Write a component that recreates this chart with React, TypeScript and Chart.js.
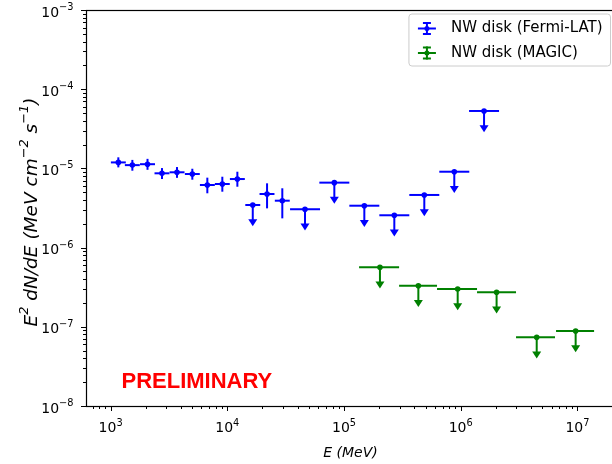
import React, { useEffect, useRef } from "react";
import { Chart, registerables } from "chart.js";

Chart.register(...registerables);

// ---- data (MeV, MeV cm^-2 s^-1) ----
const fermiLabel = "NW disk (Fermi-LAT)";
const fermiEnergy = [1164, 1535, 2070, 2754, 3704, 5012, 6739, 9060, 12190, 16520, 21900, 29590, 46300, 82600, 149300, 269800, 487500, 881000, 1585000];
const fermiELow = [1005, 1324, 1786, 2377, 3199, 4325, 5821, 7816, 10520, 14256, 18880, 25530, 34480, 61450, 111050, 200700, 362600, 655400, 1179000];
const fermiEHigh = [1349, 1778, 2399, 3192, 4295, 5808, 7816, 10495, 14125, 19143, 25350, 34280, 62300, 111050, 200700, 362600, 655400, 1184500, 2131000];
const fermiFlux = [1.19e-5, 1.10e-5, 1.13e-5, 8.67e-6, 8.93e-6, 8.49e-6, 6.17e-6, 6.35e-6, 7.34e-6, 3.45e-6, 4.75e-6, 3.91e-6, 3.05e-6, 6.61e-6, 3.38e-6, 2.56e-6, 4.62e-6, 9.08e-6, 5.31e-5];
const fermiFluxLow = [1.03e-5, 9.35e-6, 9.6e-6, 7.34e-6, 7.6e-6, 7.2e-6, 4.85e-6, 5.08e-6, 5.87e-6, null, 3.13e-6, 2.34e-6, null, null, null, null, null, null, null];
const fermiFluxHigh = [1.38e-5, 1.28e-5, 1.32e-5, 1.01e-5, 1.04e-5, 9.9e-6, 7.64e-6, 7.85e-6, 9.08e-6, null, 6.48e-6, 5.61e-6, null, null, null, null, null, null, null];
const fermiUpperLimit = [false, false, false, false, false, false, false, false, false, true, false, false, true, true, true, true, true, true, true];

const magicLabel = "NW disk (MAGIC)";
const magicEnergy = [203200, 433500, 942000, 2030000, 4480000, 9660000];
const magicELow = [134600, 296500, 626600, 1380000, 2979000, 6561000];
const magicEHigh = [296500, 626600, 1380000, 2979000, 6427000, 13900000];
const magicFlux = [5.64e-7, 3.30e-7, 3.0e-7, 2.73e-7, 7.36e-8, 8.85e-8];
const magicUpperLimit = [true, true, true, true, true, true];

const xTickValues = [1e3, 1e4, 1e5, 1e6, 1e7];
const xTickLabels = ["10^3", "10^4", "10^5", "10^6", "10^7"];
const yTickValues = [1e-8, 1e-7, 1e-6, 1e-5, 1e-4, 1e-3];
const yTickLabels = ["10^−8", "10^−7", "10^−6", "10^−5", "10^−4", "10^−3"];

const xTitle = "E (MeV)";
const yTitle = "E^2 dN/dE (MeV cm^−2 s^−1)";
const annotation = "PRELIMINARY";

const xMin = 615;
const xMax = 2.1e7;
const yMin = 1e-8;
const yMax = 1e-3;
const ulTipFactor = 0.54;

const BLUE = "#0000ff";
const GREEN = "#008000";
const FONT = "'DejaVu Sans', sans-serif";

const series = [
  { label: fermiLabel, color: BLUE, energy: fermiEnergy, eLow: fermiELow, eHigh: fermiEHigh, flux: fermiFlux, fLow: fermiFluxLow, fHigh: fermiFluxHigh, ul: fermiUpperLimit },
  { label: magicLabel, color: GREEN, energy: magicEnergy, eLow: magicELow, eHigh: magicEHigh, flux: magicFlux, fLow: magicFlux.map(() => null), fHigh: magicFlux.map(() => null), ul: magicUpperLimit },
];

function line(ctx: CanvasRenderingContext2D, x0: number, y0: number, x1: number, y1: number) {
  ctx.beginPath();
  ctx.moveTo(x0, y0);
  ctx.lineTo(x1, y1);
  ctx.stroke();
}

// parse "a^b c^d" style: caret applies to the following token (until space or ')')
function parseRich(s: string) {
  const segs: { t: string; sup: boolean }[] = [];
  let i = 0;
  let cur = "";
  while (i < s.length) {
    if (s[i] === "^") {
      if (cur) segs.push({ t: cur, sup: false });
      cur = "";
      i++;
      let sup = "";
      while (i < s.length && s[i] !== " " && s[i] !== ")") {
        sup += s[i];
        i++;
      }
      segs.push({ t: sup, sup: true });
    } else {
      cur += s[i];
      i++;
    }
  }
  if (cur) segs.push({ t: cur, sup: false });
  return segs;
}

function drawRich(
  ctx: CanvasRenderingContext2D,
  text: string,
  x: number,
  y: number,
  size: number,
  align: "left" | "center" | "right",
  style = ""
) {
  const segs = parseRich(text);
  const supSize = size * 0.7;
  const mainFont = `${style} ${size}px ${FONT}`;
  const supFont = `${style} ${supSize}px ${FONT}`;
  let total = 0;
  const widths = segs.map((sg) => {
    ctx.font = sg.sup ? supFont : mainFont;
    const w = ctx.measureText(sg.t).width;
    total += w;
    return w;
  });
  let cx = align === "left" ? x : align === "center" ? x - total / 2 : x - total;
  ctx.textAlign = "left";
  ctx.textBaseline = "alphabetic";
  segs.forEach((sg, i) => {
    ctx.font = sg.sup ? supFont : mainFont;
    ctx.fillText(sg.t, cx, sg.sup ? y - size * 0.46 : y);
    cx += widths[i];
  });
}

const errorBarPlugin = {
  id: "errorBars",
  beforeDatasetsDraw(chart: any) {
    const { ctx, scales } = chart;
    const xs = scales.x, ys = scales.y;
    ctx.save();
    ctx.lineWidth = 2;
    ctx.lineCap = "butt";
    for (const s of series) {
      ctx.strokeStyle = s.color;
      ctx.fillStyle = s.color;
      for (let i = 0; i < s.energy.length; i++) {
        const px = xs.getPixelForValue(s.energy[i]);
        const py = ys.getPixelForValue(s.flux[i]);
        line(ctx, xs.getPixelForValue(s.eLow[i]), py, xs.getPixelForValue(s.eHigh[i]), py);
        if (s.ul[i]) {
          const tip = ys.getPixelForValue(s.flux[i] * ulTipFactor);
          const head = 7, hw = 4.5;
          line(ctx, px, py, px, tip - head + 1);
          ctx.beginPath();
          ctx.moveTo(px - hw, tip - head);
          ctx.lineTo(px + hw, tip - head);
          ctx.lineTo(px, tip);
          ctx.closePath();
          ctx.fill();
        } else {
          line(ctx, px, ys.getPixelForValue(s.fHigh[i] as number), px, ys.getPixelForValue(s.fLow[i] as number));
        }
      }
    }
    ctx.restore();
  },
};

const framePlugin = {
  id: "frameTicks",
  afterDraw(chart: any) {
    const { ctx, chartArea: a, scales } = chart;
    const xs = scales.x, ys = scales.y;
    ctx.save();
    ctx.strokeStyle = "#000";
    ctx.fillStyle = "#000";
    ctx.lineWidth = 1;
    const drawX = (v: number, len: number) => {
      const p = Math.round(xs.getPixelForValue(v)) + 0.5;
      line(ctx, p, a.bottom, p, a.bottom + len);
    };
    const drawY = (v: number, len: number) => {
      const p = Math.round(ys.getPixelForValue(v)) + 0.5;
      line(ctx, a.left, p, a.left - len, p);
    };
    for (let e = 2; e <= 7; e++) {
      for (let k = 1; k <= 9; k++) {
        const v = k * Math.pow(10, e);
        if (v < xMin || v > xMax) continue;
        drawX(v, k === 1 ? 5 : 3);
      }
    }
    for (let e = -8; e <= -3; e++) {
      for (let k = 1; k <= 9; k++) {
        const v = k * Math.pow(10, e);
        if (v < yMin * 0.999 || v > yMax * 1.001) continue;
        drawY(v, k === 1 ? 5 : 3);
      }
    }
    ctx.lineWidth = 1.2;
    ctx.strokeRect(Math.round(a.left) + 0.5, Math.round(a.top) + 0.5, Math.round(a.right - a.left), Math.round(a.bottom - a.top));

    // tick labels
    xTickValues.forEach((v, i) => {
      drawRich(ctx, xTickLabels[i], xs.getPixelForValue(v), a.bottom + 26, 14, "center");
    });
    yTickValues.forEach((v, i) => {
      drawRich(ctx, yTickLabels[i], a.left - 12.5, ys.getPixelForValue(v) + 6.5, 14, "right");
    });

    // axis titles
    drawRich(ctx, xTitle, (a.left + a.right) / 2, a.bottom + 51, 14, "center", "italic");
    ctx.save();
    ctx.translate(a.left - 49, (a.top + a.bottom) / 2 + 4);
    ctx.rotate(-Math.PI / 2);
    drawRich(ctx, yTitle, 0, 0, 18.5, "center", "italic");
    ctx.restore();

    // legend
    ctx.font = `15px ${FONT}`;
    const tw = Math.max(...series.map((s) => ctx.measureText(s.label).width));
    const right = a.right - 4.5;
    const top = a.top + 4;
    const w = tw + 50;
    const left = right - w;
    const h = 52;
    ctx.beginPath();
    (ctx as any).roundRect(left, top, w, h, 3);
    ctx.fillStyle = "rgba(255,255,255,0.8)";
    ctx.fill();
    ctx.strokeStyle = "#cccccc";
    ctx.lineWidth = 1;
    ctx.stroke();
    series.forEach((s, i) => {
      const cy = top + 14.5 + i * 24.5;
      const cx = left + 18;
      ctx.strokeStyle = s.color;
      ctx.fillStyle = s.color;
      ctx.lineWidth = 2;
      line(ctx, cx - 9, cy, cx + 9, cy);
      line(ctx, cx, cy - 6.5, cx, cy + 6.5);
      line(ctx, cx - 4, cy - 5.5, cx + 4, cy - 5.5);
      line(ctx, cx - 4, cy + 5.5, cx + 4, cy + 5.5);
      ctx.beginPath();
      ctx.arc(cx, cy, 2.5, 0, Math.PI * 2);
      ctx.fill();
      ctx.fillStyle = "#000";
      ctx.font = `15px ${FONT}`;
      ctx.textBaseline = "middle";
      ctx.textAlign = "left";
      ctx.fillText(s.label, left + 42, cy);
    });

    // annotation
    ctx.fillStyle = "#ff0000";
    ctx.font = `bold 22px 'Liberation Sans', Arial, sans-serif`;
    ctx.textBaseline = "alphabetic";
    ctx.textAlign = "left";
    ctx.fillText(annotation, a.left + 35.5, a.bottom - 18);
    ctx.restore();
  },
};

export default function App() {
  const ref = useRef<HTMLCanvasElement | null>(null);
  useEffect(() => {
    document.body.style.margin = "0";
    const canvas = ref.current;
    if (!canvas) return;
    const chart = new Chart(canvas, {
      type: "scatter",
      data: {
        datasets: series.map((s) => ({
          label: s.label,
          data: s.energy.map((e, i) => ({ x: e, y: s.flux[i] })),
          backgroundColor: s.color,
          borderColor: s.color,
          pointRadius: 2.8,
          pointBorderWidth: 0,
          showLine: false,
        })),
      },
      options: {
        animation: false,
        responsive: false,
        devicePixelRatio: 1,
        layout: { padding: { left: 0, top: 10, right: 5, bottom: 0 } },
        plugins: { legend: { display: false }, tooltip: { enabled: false } },
        scales: {
          x: {
            type: "logarithmic",
            min: xMin,
            max: xMax,
            grid: { display: false, drawTicks: false },
            border: { display: false },
            afterBuildTicks: (scale: any) => {
              scale.ticks = xTickValues.map((v) => ({ value: v }));
            },
            afterFit: (scale: any) => {
              scale.height = 58;
            },
            ticks: { display: false, autoSkip: false },
            title: { display: false },
          },
          y: {
            type: "logarithmic",
            min: yMin,
            max: yMax,
            grid: { display: false, drawTicks: false },
            border: { display: false },
            afterBuildTicks: (scale: any) => {
              scale.ticks = yTickValues.map((v) => ({ value: v }));
            },
            afterFit: (scale: any) => {
              scale.width = 86;
            },
            ticks: { display: false, autoSkip: false },
            title: { display: false },
          },
        },
      },
      plugins: [errorBarPlugin, framePlugin],
    } as any);
    return () => chart.destroy();
  }, []);
  return (
    <div style={{ width: 612, height: 464, overflow: "hidden", position: "relative" }}>
      <canvas ref={ref} width={620} height={464} style={{ display: "block" }} />
    </div>
  );
}
